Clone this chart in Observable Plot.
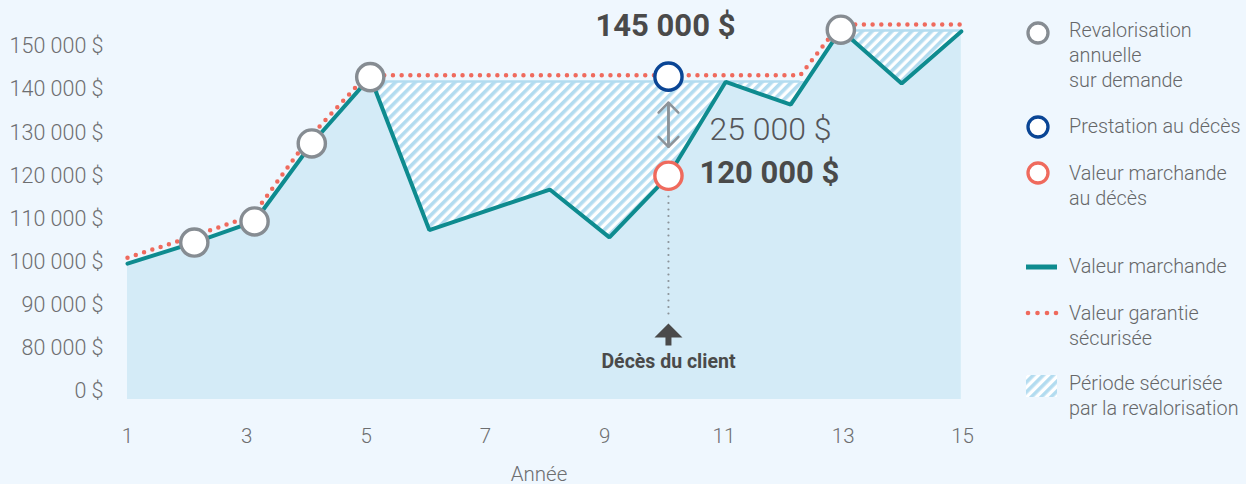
<!DOCTYPE html>
<html><head><meta charset="utf-8">
<script src="https://cdn.jsdelivr.net/npm/d3@7"></script>
<script src="https://cdn.jsdelivr.net/npm/@observablehq/plot@0.6"></script>
<style>
html,body{margin:0;padding:0;background:#eff7fe;}
#wrap{position:relative;width:1246px;height:484px;overflow:hidden;font-family:Roboto,sans-serif;}
#chart{position:absolute;left:0;top:0;}
#legend{position:absolute;left:1010px;top:0;}
</style></head><body>
<div id="wrap"><div id="chart"></div><svg id="legend" width="236" height="484"></svg></div>
<script>
// ---- Data ----
const years        = [1, 2.12, 3.13, 4.09, 5.07, 6.06, 8.08, 9.08, 10.07, 11.03, 12.12, 12.96, 13.98, 14.98];
const marketValue  = [99600, 104500, 109400, 127500, 142900, 107400, 116800, 105700, 120000, 141800, 136500, 153900, 141400, 153500];
const guaranteeYears = [1, 2.09, 3.1, 4.05, 5.01, 12.28, 12.94, 15];
const guaranteeValue = [101000, 105900, 110800, 128900, 143300, 143300, 155100, 155100];
const revaluationYears = [2.12, 3.13, 4.09, 5.07, 12.96];
const hatchRegionYears = [[5.07, 6.06, 8.08, 9.08, 10.07, 11.03, 12.12, 12.96], [12.96, 13.98, 14.98]];
const hatchCaps = [141900, 153700];
const hatchCapEnds = [12.28, 14.98];
const deathYear = 10.07;
const deathBenefitPos = 143000;
const deathMarketValue = 120000;
const deathBenefitLabel = "145 000 $";
const deathMarketLabel = "120 000 $";
const gapLabel = "25 000 $";
const deathCaption = "Décès du client";
const xTickValues = [1, 3, 5, 7, 9, 11, 13, 15];
const yTickValues = [70000, 80000, 90000, 100000, 110000, 120000, 130000, 140000, 150000];
const yTickLabels = ["0 $", "80 000 $", "90 000 $", "100 000 $", "110 000 $", "120 000 $", "130 000 $", "140 000 $", "150 000 $"];
const xLabel = "Année";
const legendLabels = [
  ["Revalorisation", "annuelle", "sur demande"],
  ["Prestation au décès"],
  ["Valeur marchande", "au décès"],
  ["Valeur marchande"],
  ["Valeur garantie", "sécurisée"],
  ["Période sécurisée", "par la revalorisation"]
];

// ---- Derived tables ----
const market = years.map((y, i) => ({year: y, value: marketValue[i]}));
const marketAt = new Map(market.map(d => [d.year, d.value]));
const guarantee = guaranteeYears.map((y, i) => ({year: y, value: guaranteeValue[i]}));
const reval = revaluationYears.map(y => ({year: y, value: marketAt.get(y)}));
const hatch = hatchRegionYears.flatMap((ys, r) => ys.map(y => ({year: y, market: marketAt.get(y), cap: hatchCaps[r], region: r})));
const hatchTops = hatchCaps.map((c, r) => ({cap: c, start: hatchRegionYears[r][0], end: hatchCapEnds[r]}));
const death = [{year: deathYear, benefit: deathBenefitPos, market: deathMarketValue}];
const yLabelMap = new Map(yTickValues.map((v, i) => [v, yTickLabels[i]]));

const C = {
  teal: "#0e8b8f", red: "#ef6a5d", gray: "#868c92", blue: "#0a4595",
  fill: "#d4ebf7", stripe: "#b3dcf0", text: "#6d6e70", dark: "#4a4a4a", arrow: "#8c9399"
};

const arrowSymbol = {
  draw(ctx) {
    ctx.moveTo(0, -7); ctx.lineTo(14, 7); ctx.lineTo(3, 7); ctx.lineTo(3, 15);
    ctx.lineTo(-3, 15); ctx.lineTo(-3, 7); ctx.lineTo(-14, 7); ctx.closePath();
  }
};

const svg = Plot.plot({
  width: 1010, height: 484,
  marginLeft: 127, marginRight: 48, marginTop: 0, marginBottom: 85,
  x: {domain: [1, 15]},
  y: {domain: [68080, 160675]},
  style: {background: "transparent", fontFamily: "Roboto, sans-serif", overflow: "visible"},
  marks: [
    Plot.areaY(hatch, {x: "year", y1: "market", y2: "cap", z: "region", fill: "url(#hatch)"}),
    Plot.ruleY(hatchTops, {y: "cap", x1: "start", x2: "end", stroke: C.stripe, strokeWidth: 2.5}),
    Plot.areaY(market, {x: "year", y: "value", fill: C.fill, clip: true}),
    Plot.line(market, {x: "year", y: "value", stroke: C.teal, strokeWidth: 4, strokeLinejoin: "miter"}),
    Plot.line(guarantee, {x: "year", y: "value", stroke: C.red, strokeWidth: 4.5, strokeDasharray: "0 8.7", strokeLinecap: "round"}),
    Plot.ruleX(death, {x: "year", insetTop: 190, insetBottom: 84, stroke: C.arrow, strokeWidth: 2.2, strokeDasharray: "0 6.5", strokeLinecap: "round"}),
    Plot.dot(death, {x: "year", frameAnchor: "bottom", dy: -69, symbol: arrowSymbol, fill: C.dark, stroke: "none"}),
    Plot.text(death, {x: "year", frameAnchor: "bottom", dy: -32, text: () => deathCaption, fontSize: 19.5, fontWeight: "bold", fill: C.dark}),
    Plot.arrow(death, {x: "year", y1: "market", y2: "benefit", insetStart: 29, insetEnd: 26, headAngle: 90, headLength: 8.4, stroke: C.arrow, strokeWidth: 2.5}),
    Plot.arrow(death, {x: "year", y1: "benefit", y2: "market", insetStart: 26, insetEnd: 29, headAngle: 90, headLength: 8.4, stroke: C.arrow, strokeWidth: 2.5}),
    Plot.dot(reval, {x: "year", y: "value", r: 13.6, fill: "white", stroke: C.gray, strokeWidth: 3.4}),
    Plot.dot(death, {x: "year", y: "benefit", r: 13.6, fill: "white", stroke: C.blue, strokeWidth: 3.4}),
    Plot.dot(death, {x: "year", y: "market", r: 13.6, fill: "white", stroke: C.red, strokeWidth: 3.4}),
    Plot.text(death, {x: "year", y: "benefit", text: () => deathBenefitLabel, dy: -51, dx: -3, fontSize: 31, fontWeight: "bold", fill: C.dark}),
    Plot.text(death, {x: "year", y: "benefit", text: () => gapLabel, dy: 53, dx: 41, textAnchor: "start", fontSize: 32, fontWeight: 300, fill: "#55565a"}),
    Plot.text(death, {x: "year", y: "market", text: () => deathMarketLabel, dy: -3, dx: 31, textAnchor: "start", fontSize: 31, fontWeight: "bold", fill: C.dark}),
    Plot.axisY(yTickValues, {tickSize: 0, tickPadding: 24, tickFormat: d => yLabelMap.get(d), fontSize: 21.5, fontWeight: 300, color: C.text, label: null}),
    Plot.axisX(xTickValues, {tickSize: 0, tickPadding: 29, fontSize: 20.5, fontWeight: 300, color: C.text, label: null}),
    Plot.text([xLabel], {frameAnchor: "bottom", dy: 81, dx: -6, fontSize: 20.5, fontWeight: 300, fill: C.text})
  ]
});

function addHatch(svgSel, id) {
  const defs = svgSel.insert("defs", ":first-child");
  const p = defs.append("pattern").attr("id", id).attr("patternUnits", "userSpaceOnUse")
    .attr("width", 7).attr("height", 7).attr("patternTransform", "rotate(45)");
  p.append("rect").attr("width", 7).attr("height", 7).attr("fill", "#ffffff");
  p.append("rect").attr("width", 3.6).attr("height", 7).attr("fill", C.stripe);
}
addHatch(d3.select(svg), "hatch");
document.getElementById("chart").appendChild(svg);

// ---- Legend ----
const lg = d3.select("#legend");
addHatch(lg, "hatchLegend");
const iconY = [33, 127, 173, 267, 313, 386];
const baseY = [37, 133, 180, 273, 320, 390];
const kinds = [["circle", C.gray], ["circle", C.blue], ["circle", C.red], ["line"], ["dots"], ["hatch"]];
kinds.forEach(([k, col], i) => {
  const cy = iconY[i];
  if (k === "circle") lg.append("circle").attr("cx", 28).attr("cy", cy).attr("r", 10).attr("fill", "white").attr("stroke", col).attr("stroke-width", 3.3);
  if (k === "line") lg.append("line").attr("x1", 16).attr("x2", 47).attr("y1", cy).attr("y2", cy).attr("stroke", C.teal).attr("stroke-width", 5);
  if (k === "dots") [18, 27.5, 37, 46].forEach(x => lg.append("circle").attr("cx", x).attr("cy", cy).attr("r", 2.3).attr("fill", C.red));
  if (k === "hatch") lg.append("rect").attr("x", 16).attr("y", cy - 11).attr("width", 31).attr("height", 22).attr("fill", "url(#hatchLegend)");
  const t = lg.append("text").attr("x", 59).attr("y", baseY[i]).attr("fill", "#666769")
    .attr("font-size", 19.8).attr("font-weight", 300).attr("font-family", "Roboto, sans-serif");
  legendLabels[i].forEach((line, j) => t.append("tspan").attr("x", 59).attr("y", baseY[i] + j * 25).text(line));
});
</script>
</body></html>
